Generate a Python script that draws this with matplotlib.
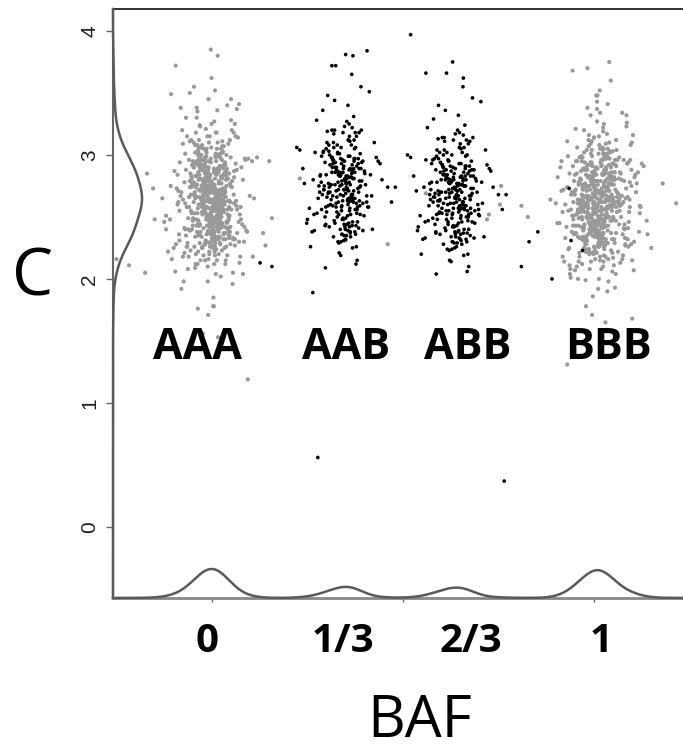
import numpy as np
import matplotlib
matplotlib.use('Agg')
from matplotlib import pyplot as plt

# BAF values are in thousandths, copy number (C) in hundredths

# AAA cluster (grey), around BAF 0
aaa_x = [-10, 15, -32, 4, -48, 22, -5, 38, -61, 9,
         -18, 27, -40, 1, 55, -25, -8, 31, -72, 12,
         -2, -36, 19, 44, -14, -55, 6, -21, 33, -1,
         -66, 17, -29, 49, -11, 3, -44, 25, -90, 8,
         -16, 40, -7, -52, 13, 29, -35, -3, 62, -24,
         11, -13, 36, -58, 0, 21, -42, 7, -19, 47,
         -27, -6, 16, -80, 34, -12, 24, -46, 2, -31,
         58, -9, 18, -38, 41, -22, -4, 10, -63, 28,
         -15, 52, -33, 5, -50, 20, -1, -26, 37, -70,
         14, -17, 30, -43, 66, -8, 23, -56, -12, 43,
         -110, 3, -30, 26, -20, 50, -39, 8, -4, 35,
         -60, 12, -23, 45, -9, -48, 17, 2, -35, 71,
         -14, 28, -76, 6, -28, 39, -3, 15, -53, 21,
         -41, 9, 54, -18, -6, 32, -65, 1, 24, -30,
         85, -11, -45, 13, -2, 42, -25, 19, -95, 7,
         -37, 31, -16, 57, -7, -51, 22, -20, 4, -130,
         27, -34, 11, 60, -13, -40, 14, -5, 36, -58,
         18, -27, 48, -10, -85, 3, 25, -22, 105, -44,
         0, 16, -31, 38, -15, -68, 10, 29, -3, -120,
         46, -19, 5, -36, 20, -150, 33, -9, 75, -47,
         -8, 5, -22, 14, -3, -30, 20, -12, 9, -18,
         2, -26, 16, -6, 27, -15, 0, -35, 11, -1,
         -20, 7, -10, 24, -28, 3, -14, 18, -4, -33,
         12, -9, 22, -17, 6, -24, 30, -2, -13, 15,
         -7, 19, -31, 1, -21, 10, -5, 26, -16, 4,
         -11, 17, -27, 8, -19, 23, -3, -36, 13, -8,
         21, -14, 0, -25, 28, -6, 9, -18, 2, -29,
         16, -10, 25, -1, -23, 6, -12, 32, -15, 11,
         -4, -32, 14, -20, 3, 18, -9, -26, 7, -16,
         24, -2, -11, 10, -24, 20, -7, 1, -34, 13,
         -3, 24, -41, 10, -17, 35, -29, 2, 18, -52,
         7, -22, 40, -9, -35, 15, 29, -14, -47, 4,
         21, -31, -6, 46, -19, 12, -38, 26, -2, -57,
         33, -12, 8, -44, 19, -25, 38, 0, -16, 27,
         -33, 6, -50, 14, -8, 31, -27, 43, -11, -39,
         22, -4, 16, -30, 36, -21, 3, -45, 25, -13,
         -1, 41, -36, 11, -24, 30, -7, -54, 17, 9,
         -28, 34, -15, 1, -42, 23, -5, 48, -32, 13,
         -20, 28, -49, 5, 37, -10, -26, 20, -3, -37,
         44, -18, 8, -34, 15, -43, 32, -6, 26, -23,
         -12, 39, -30, 3, 18, -46, 10, -16, 29, -40,
         6, -21, 35, -8, -53, 24, -2, 13, -27, 42,
         -35, 16, -9, 31, -19, 2, -44, 21, -14, 37,
         -25, 9, -38, 27, -4, -31, 45, -17, 11, -48,
         19, -7, 33, -22, 0, -36, 25, -11, 40, -29,
         -60, 35, -85, 52, -22, 70, -45, 18, -98, 41,
         -12, 63, -70, 27, -38, 88, -55, 6, 47, -80,
         30, -66, 58, -28, 76, -92, 14, -50, 39, -105,
         -34, 55, -76, 22, -58, 81, -17, 44, -88, 10,
         66, -42, 33, -64, 95, -26, 50, -72, 3, -115,
         -48, 24, 72, -36, -82, 46, -20, 60, -62, 29,
         -94, 37, -30, 79, -54, 12, -74, 53, -40, 90,
         19, -68, 42, -24, -100, 65, -46, 31, -86, 57,
         -15, 74, -52, 26, -78, 48, -33, 84, -60, 8,
         -120, 38, -44, 62, -25, 92, -70, 16, -56, 45,
         -35, 68, -90, 21, -48, 77, -18, 51, -82, 34,
         -65, 13, 86, -40, 58, -96, 27, -58, 73, -28,
         -108, 43, -15, 64, -72, 36, -50, 99, -32, 56,
         -84, 20, -62, 81, -43, 49, -76, 9, -54, 71,
         -125, 33, -38, 60, -88, 25, -68, 47, -22, 110]
aaa_y = [265, 240, 290, 255, 310, 228, 272, 300, 218, 260,
         285, 245, 330, 270, 205, 252, 295, 236, 278, 318,
         262, 222, 288, 248, 302, 268, 212, 280, 242, 325,
         258, 232, 296, 275, 198, 264, 308, 250, 284, 226,
         270, 340, 246, 292, 215, 260, 280, 238, 315, 254,
         286, 230, 266, 350, 244, 298, 220, 276, 257, 312,
         234, 282, 268, 192, 294, 249, 305, 226, 271, 260,
         287, 216, 263, 335, 241, 279, 253, 300, 208, 273,
         258, 320, 236, 289, 247, 268, 362, 225, 283, 261,
         244, 297, 232, 274, 256, 310, 202, 285, 266, 240,
         248, 270, 292, 223, 259, 328, 238, 281, 264, 212,
         296, 251, 277, 233, 345, 262, 286, 245, 272, 230,
         268, 303, 218, 258, 290, 241, 275, 380, 253, 229,
         283, 262, 196, 298, 247, 272, 315, 236, 259, 288,
         242, 210, 270, 305, 254, 281, 226, 266, 372, 248,
         292, 237, 263, 318, 220, 276, 252, 287, 185, 265,
         243, 299, 271, 232, 258, 338, 249, 284, 215, 274,
         261, 306, 228, 289, 255, 178, 268, 241, 295, 234,
         277, 258, 323, 246, 268, 288, 204, 262, 385, 240,
         251, 279, 236, 300, 265, 248, 225, 290, 258, 355,
         262, 245, 280, 255, 270, 238, 290, 251, 266, 228,
         275, 258, 300, 242, 268, 284, 233, 260, 295, 248,
         271, 222, 287, 256, 264, 240, 305, 252, 278, 236,
         259, 283, 246, 269, 230, 292, 254, 274, 243, 310,
         263, 250, 281, 237, 267, 298, 226, 261, 276, 249,
         286, 241, 265, 219, 279, 253, 294, 235, 270, 257,
         247, 282, 231, 263, 302, 244, 273, 255, 225, 288,
         260, 239, 277, 251, 296, 234, 268, 285, 248, 262,
         272, 229, 289, 256, 241, 279, 265, 308, 238, 253,
         283, 246, 270, 232, 261, 291, 250, 275, 243, 266,
         248, 282, 266, 301, 231, 270, 292, 255, 277, 240,
         287, 262, 219, 275, 306, 251, 268, 236, 290, 259,
         272, 244, 315, 263, 228, 284, 253, 296, 270, 239,
         260, 279, 247, 302, 266, 225, 288, 257, 273, 311,
         243, 269, 295, 234, 281, 254, 264, 309, 238, 276,
         298, 250, 271, 215, 285, 261, 242, 293, 267, 230,
         279, 256, 304, 246, 268, 289, 222, 274, 252, 299,
         265, 237, 283, 258, 318, 241, 276, 262, 294, 233,
         270, 302, 249, 286, 226, 263, 280, 244, 297, 257,
         235, 274, 260, 312, 252, 283, 268, 229, 291, 266,
         284, 245, 299, 261, 238, 277, 255, 321, 271, 248,
         259, 290, 232, 269, 281, 253, 306, 242, 275, 263,
         296, 240, 273, 256, 287, 227, 265, 301, 250, 280,
         262, 285, 244, 307, 236, 272, 258, 291, 224, 268,
         278, 251, 293, 264, 239, 286, 255, 270, 246, 300,
         258, 292, 231, 274, 305, 246, 268, 220, 287, 252,
         315, 263, 240, 281, 212, 296, 255, 327, 238, 270,
         284, 226, 261, 300, 248, 273, 336, 243, 289, 216,
         266, 232, 309, 257, 279, 204, 294, 250, 271, 318,
         237, 283, 262, 229, 297, 254, 345, 241, 276, 222,
         290, 259, 213, 302, 267, 235, 281, 325, 249, 264,
         228, 286, 271, 244, 312, 256, 198, 279, 295, 239,
         261, 330, 247, 273, 225, 288, 253, 307, 236, 268,
         299, 218, 277, 258, 320, 242, 284, 230, 266, 352,
         251, 275, 209, 293, 263, 238, 301, 269, 223, 285,
         247, 314, 260, 234, 278, 290, 215, 256, 338, 272,
         226, 265, 297, 243, 282, 206, 270, 311, 252, 289,
         275, 238, 303, 259, 221, 286, 248, 267, 324, 233,
         294, 255, 240, 280, 212, 298, 264, 229, 283, 341,
         246, 273, 308, 227, 262, 291, 235, 277, 219, 265]

# BBB cluster (grey), around BAF 1
bbb_x = [1010, 985, 1042, 968, 1025, 1003, 950, 1061, 992, 1018,
         1035, 974, 1008, 1088, 958, 1022, 996, 1047, 930, 1013,
         981, 1030, 1001, 1066, 962, 1016, 989, 1052, 942, 1024,
         1006, 977, 1039, 915, 1011, 1072, 994, 1028, 966, 1005,
         1045, 983, 1019, 1098, 955, 1033, 999, 971, 1058, 1014,
         987, 1026, 946, 1009, 1080, 976, 1037, 1002, 1120, 991,
         1020, 960, 1049, 997, 1031, 904, 1012, 1063, 979, 1023,
         1041, 969, 1007, 1085, 951, 1027, 993, 1055, 937, 1015,
         1000, 1034, 973, 1070, 1017, 886, 1044, 988, 1029, 964,
         1004, 1050, 980, 1110, 1021, 956, 1038, 995, 1064, 948,
         1013, 978, 1032, 1076, 961, 1026, 1001, 1046, 925, 1019,
         990, 1057, 970, 1036, 1008, 1094, 984, 1022, 940, 1011,
         1043, 967, 1025, 998, 1068, 953, 1015, 1040, 982, 1150,
         1006, 972, 1035, 1090, 959, 1018, 994, 1053, 933, 1024,
         1003, 1048, 975, 1030, 1014, 1180, 986, 1060, 944, 1009,
         1027, 963, 1039, 1000, 1074, 952, 1020, 1045, 979, 1215,
         1012, 968, 1033, 1082, 957, 1016, 997, 1051, 936, 1023,
         1005, 1042, 976, 1029, 1010, 1100, 989, 1058, 945, 1017,
         1036, 965, 1024, 1002, 1066, 950, 1013, 1047, 983, 1140,
         1008, 971, 1031, 1078, 960, 1021, 996, 1054, 918, 1015,
         1008, 1021, 994, 1030, 1003, 980, 1027, 998, 1015, 987,
         1010, 975, 1024, 1001, 1036, 991, 1012, 971, 1019, 1005,
         985, 1016, 996, 1033, 978, 1009, 992, 1026, 1000, 969,
         1018, 999, 1029, 989, 1013, 982, 1039, 1004, 995, 1022,
         1002, 1025, 977, 1011, 986, 1017, 1000, 1034, 990, 1014,
         997, 1023, 981, 1016, 988, 1031, 1006, 973, 1020, 1001,
         1028, 993, 1010, 984, 1037, 999, 1017, 989, 1007, 979,
         1024, 996, 1032, 1003, 983, 1014, 994, 1040, 991, 1019,
         1004, 974, 1022, 987, 1011, 1026, 998, 981, 1013, 992,
         1030, 1005, 996, 1018, 984, 1027, 1001, 1009, 972, 1021,
         1015, 988, 1042, 1001, 970, 1029, 1007, 1051, 980, 1022,
         994, 1036, 1011, 963, 1026, 999, 1045, 985, 1018, 956,
         1033, 1004, 975, 1040, 1013, 990, 1055, 968, 1024, 1002,
         981, 1031, 1009, 1048, 973, 1019, 996, 1038, 960, 1027,
         1006, 986, 1043, 1014, 977, 1035, 999, 1058, 983, 1021,
         1010, 965, 1030, 992, 1046, 1003, 979, 1039, 1016, 953,
         1025, 997, 1052, 987, 1012, 971, 1037, 1005, 1049, 982,
         1020, 959, 1034, 1000, 1044, 976, 1023, 993, 1060, 1008,
         969, 1028, 1013, 984, 1041, 998, 1017, 962, 1032, 1006,
         1053, 989, 1021, 974, 1036, 1002, 1047, 980, 1015, 966,
         1029, 995, 1043, 1011, 958, 1024, 1001, 1050, 986, 1019,
         1004, 972, 1038, 991, 1027, 1008, 964, 1045, 997, 1033,
         978, 1014, 1056, 988, 1022, 1000, 1041, 967, 1030, 1009,
         985, 1048, 1017, 961, 1035, 996, 1026, 975, 1012, 1054,
         1003, 983, 1039, 1020, 970, 1031, 994, 1044, 1007, 957,
         1060, 975, 1090, 942, 1035, 1078, 958, 1100, 987, 1047,
         930, 1068, 1004, 1112, 950, 1056, 980, 1085, 925, 1040,
         1072, 962, 1028, 1095, 945, 1063, 991, 1118, 936, 1052,
         968, 1082, 1016, 955, 1098, 978, 1044, 910, 1070, 1000,
         1088, 948, 1058, 985, 1125, 960, 1036, 1075, 920, 1050,
         995, 1092, 938, 1066, 972, 1105, 1026, 952, 1080, 965,
         1045, 905, 1073, 1010, 1096, 943, 1055, 983, 1130, 958,
         1038, 1086, 928, 1062, 999, 1108, 946, 1049, 976, 1093,
         915, 1069, 1020, 957, 1102, 989, 1043, 935, 1077, 1006,
         1091, 950, 1057, 972, 1120, 963, 1032, 1083, 918, 1065,
         992, 1099, 940, 1054, 980, 1115, 1024, 947, 1074, 968,
         1048, 900, 1087, 1013, 1094, 939, 1060, 986, 1138, 955,
         1040, 1081, 932, 1067, 1003, 1106, 952, 1051, 974, 1097,
         912, 1071, 1018, 960, 1104, 994, 1046, 933, 1079, 1008,
         1089, 944, 1059, 978, 1122, 966, 1030, 1084, 922, 1064]
bbb_y = [260, 236, 285, 250, 305, 222, 268, 296, 214, 255,
         281, 241, 327, 266, 200, 248, 291, 232, 274, 315,
         258, 218, 284, 244, 298, 264, 208, 276, 238, 322,
         254, 228, 292, 271, 192, 260, 304, 246, 280, 222,
         266, 338, 242, 288, 210, 256, 276, 234, 312, 250,
         282, 226, 262, 348, 240, 294, 216, 272, 253, 309,
         230, 278, 264, 186, 290, 245, 301, 222, 267, 256,
         283, 212, 259, 332, 237, 275, 249, 296, 204, 269,
         254, 317, 232, 285, 243, 264, 360, 221, 279, 257,
         240, 293, 228, 270, 252, 306, 198, 281, 262, 236,
         244, 266, 288, 219, 255, 325, 234, 277, 260, 208,
         292, 247, 273, 229, 343, 258, 282, 241, 268, 226,
         264, 299, 214, 254, 286, 237, 271, 375, 249, 225,
         279, 258, 190, 294, 243, 268, 311, 232, 255, 284,
         238, 206, 266, 301, 250, 277, 222, 262, 368, 244,
         288, 233, 259, 314, 216, 272, 248, 283, 178, 261,
         239, 295, 267, 228, 254, 334, 245, 280, 211, 270,
         257, 302, 224, 285, 251, 168, 264, 237, 291, 230,
         273, 254, 319, 242, 264, 284, 200, 258, 370, 236,
         247, 275, 232, 296, 261, 244, 221, 286, 254, 352,
         258, 241, 276, 251, 266, 234, 286, 247, 262, 224,
         271, 254, 296, 238, 264, 280, 229, 256, 291, 244,
         267, 218, 283, 252, 260, 236, 301, 248, 274, 232,
         255, 279, 242, 265, 226, 288, 250, 270, 239, 306,
         259, 246, 277, 233, 263, 294, 222, 257, 272, 245,
         282, 237, 261, 215, 275, 249, 290, 231, 266, 253,
         243, 278, 227, 259, 298, 240, 269, 251, 221, 284,
         256, 235, 273, 247, 292, 230, 264, 281, 244, 258,
         268, 225, 285, 252, 237, 275, 261, 304, 234, 249,
         279, 242, 266, 228, 257, 287, 246, 271, 239, 262,
         255, 240, 281, 262, 298, 227, 270, 249, 288, 236,
         266, 305, 246, 277, 219, 260, 286, 252, 232, 295,
         258, 273, 244, 310, 262, 238, 280, 256, 301, 225,
         271, 250, 289, 263, 242, 296, 257, 277, 214, 268,
         284, 246, 265, 308, 234, 274, 253, 291, 261, 229,
         276, 258, 300, 241, 268, 285, 222, 263, 249, 295,
         237, 281, 260, 316, 250, 272, 243, 289, 266, 231,
         292, 254, 274, 226, 283, 261, 304, 245, 270, 257,
         248, 287, 235, 264, 297, 252, 279, 218, 271, 259,
         282, 244, 267, 302, 239, 275, 255, 290, 230, 264,
         262, 299, 247, 271, 256, 233, 287, 250, 312, 268,
         243, 276, 259, 294, 224, 265, 281, 237, 269, 253,
         288, 248, 272, 220, 284, 257, 303, 242, 264, 279,
         251, 293, 236, 262, 274, 245, 298, 260, 228, 286,
         270, 254, 285, 241, 267, 309, 249, 276, 234, 261,
         254, 288, 226, 270, 301, 241, 264, 215, 283, 247,
         311, 259, 235, 277, 207, 292, 250, 323, 233, 266,
         280, 221, 256, 296, 243, 269, 332, 238, 285, 211,
         262, 227, 305, 252, 275, 199, 290, 245, 267, 314,
         232, 279, 258, 224, 293, 249, 341, 236, 272, 217,
         286, 254, 208, 298, 263, 230, 277, 321, 244, 260,
         223, 282, 267, 239, 308, 251, 193, 275, 291, 234,
         257, 326, 242, 269, 220, 284, 248, 303, 231, 264,
         295, 213, 273, 253, 316, 237, 280, 225, 262, 348,
         246, 271, 204, 289, 259, 233, 297, 265, 218, 281,
         242, 310, 256, 229, 274, 286, 210, 251, 334, 268,
         221, 261, 293, 238, 278, 201, 266, 307, 247, 285,
         271, 233, 299, 255, 216, 282, 243, 263, 320, 228,
         290, 250, 235, 276, 207, 294, 260, 224, 279, 337,
         241, 269, 304, 222, 258, 287, 230, 273, 214, 261]

# AAB cluster (black), around BAF 1/3
aab_x = [348, 320, 372, 301, 395, 338, 356, 280, 410, 329,
         362, 344, 305, 385, 267, 351, 333, 376, 312, 440,
         340, 359, 296, 367, 325, 390, 352, 318, 430, 336,
         365, 287, 347, 380, 309, 354, 242, 371, 331, 400,
         343, 316, 358, 292, 378, 337, 361, 255, 349, 420,
         326, 368, 303, 387, 341, 357, 275, 364, 314, 405,
         346, 332, 374, 298, 360, 322, 383, 350, 230, 369,
         339, 308, 362, 392, 327, 353, 284, 377, 345, 460,
         319, 366, 296, 381, 334, 356, 262, 373, 311, 398,
         350, 328, 370, 290, 384, 342, 359, 250, 366, 415,
         323, 355, 306, 389, 337, 362, 278, 375, 348, 445,
         316, 367, 300, 379, 330, 352, 270, 371, 343, 408,
         335, 360, 294, 386, 321, 364, 258, 374, 340, 425,
         346, 313, 369, 297, 382, 338, 358, 238, 363, 402,
         329, 354, 304, 391, 344, 366, 282, 376, 317, 470,
         351, 325, 372, 289, 385, 336, 357, 265, 368, 412,
         342, 318, 363, 299, 380, 331, 361, 248, 370, 435,
         347, 322, 374, 307, 388, 339, 355, 274, 365, 395,
         328, 359, 293, 383, 345, 352, 222, 378, 315, 480,
         334, 367, 302, 387, 340, 358, 268, 372, 324, 418,
         352, 318, 381, 336, 299, 364, 341, 390, 325, 357,
         310, 372, 346, 287, 368, 332, 399, 321, 355, 305,
         377, 339, 293, 360, 328, 386, 349, 314, 370, 334,
         296, 362, 343, 405, 322, 358, 307, 375, 337, 283,
         366, 330, 392, 316, 353, 301, 379, 345, 326, 368,
         291, 355, 338, 384, 312, 361, 347, 304, 374, 331,
         395, 319, 350, 286, 367, 340, 309, 378, 327, 359,
         298, 371, 344, 315, 388, 335, 363, 306, 356, 323]
aab_y = [281, 247, 312, 266, 295, 230, 340, 275, 258, 302,
         238, 289, 270, 318, 252, 283, 221, 306, 264, 293,
         276, 325, 243, 287, 261, 355, 272, 234, 298, 268,
         308, 256, 280, 215, 292, 244, 277, 331, 262, 285,
         249, 296, 271, 303, 226, 284, 311, 257, 279, 240,
         290, 263, 348, 274, 236, 299, 253, 282, 320, 267,
         272, 229, 286, 258, 315, 245, 293, 269, 304, 380,
         255, 300, 237, 279, 266, 327, 284, 212, 291, 274,
         317, 268, 294, 246, 283, 260, 238, 305, 276, 251,
         232, 287, 262, 336, 270, 296, 278, 248, 365, 284,
         294, 251, 308, 275, 219, 289, 265, 318, 242, 280,
         267, 322, 254, 291, 278, 235, 302, 271, 286, 258,
         286, 242, 275, 263, 344, 282, 226, 297, 259, 310,
         244, 298, 281, 209, 273, 306, 265, 289, 252, 276,
         301, 273, 259, 320, 248, 285, 270, 236, 293, 262,
         277, 258, 297, 268, 289, 240, 312, 280, 225, 351,
         263, 310, 234, 284, 256, 272, 299, 245, 281, 295,
         323, 276, 265, 242, 301, 258, 283, 328, 268, 239,
         250, 288, 272, 297, 231, 277, 306, 261, 290, 274,
         285, 243, 319, 259, 279, 262, 239, 295, 372, 267,
         274, 296, 258, 283, 305, 266, 248, 289, 271, 312,
         260, 281, 235, 299, 268, 252, 287, 320, 263, 277,
         243, 293, 272, 255, 308, 279, 240, 286, 265, 301,
         250, 276, 318, 262, 290, 245, 274, 256, 297, 283,
         268, 230, 294, 259, 281, 310, 253, 272, 288, 246,
         302, 264, 285, 241, 276, 257, 295, 269, 238, 284,
         261, 306, 249, 278, 292, 236, 270, 315, 254, 282,
         244, 289, 267, 298, 252, 275, 263, 303, 239, 286]

# ABB cluster (black), around BAF 2/3
abb_x = [635, 610, 660, 592, 680, 628, 645, 570, 700, 618,
         650, 632, 596, 675, 558, 641, 622, 668, 602, 730,
         628, 648, 586, 657, 613, 682, 640, 606, 720, 624,
         655, 578, 636, 672, 598, 644, 535, 662, 620, 692,
         632, 606, 648, 582, 670, 626, 652, 545, 638, 712,
         616, 660, 593, 678, 630, 647, 566, 655, 603, 696,
         636, 621, 665, 588, 650, 612, 674, 640, 520, 658,
         628, 598, 652, 684, 617, 643, 575, 668, 634, 750,
         609, 657, 586, 672, 623, 646, 552, 664, 601, 688,
         640, 618, 661, 580, 676, 631, 649, 540, 657, 706,
         613, 645, 596, 681, 626, 653, 568, 666, 637, 736,
         606, 658, 590, 670, 620, 642, 560, 662, 633, 698,
         624, 651, 584, 677, 611, 655, 548, 665, 630, 716,
         636, 603, 660, 587, 674, 628, 648, 528, 654, 694,
         619, 645, 594, 683, 634, 657, 572, 667, 607, 760,
         642, 615, 663, 579, 677, 626, 648, 555, 659, 704,
         632, 608, 654, 589, 671, 621, 652, 538, 661, 726,
         637, 612, 665, 597, 679, 629, 646, 564, 656, 686,
         618, 650, 583, 674, 635, 643, 512, 669, 605, 770,
         624, 658, 592, 678, 630, 649, 558, 663, 614, 708,
         640, 605, 672, 622, 588, 655, 630, 684, 612, 648,
         596, 664, 634, 575, 658, 618, 690, 608, 645, 592,
         668, 626, 580, 651, 615, 678, 638, 600, 662, 620,
         584, 654, 632, 698, 610, 646, 594, 666, 624, 570,
         657, 616, 686, 602, 643, 589, 670, 636, 613, 660,
         578, 648, 627, 676, 598, 652, 637, 591, 665, 619,
         688, 606, 641, 573, 659, 629, 597, 671, 614, 650,
         586, 663, 633, 603, 681, 622, 654, 593, 647, 611]
abb_y = [274, 241, 306, 259, 288, 224, 332, 268, 251, 296,
         232, 282, 263, 311, 246, 277, 215, 300, 257, 287,
         270, 318, 237, 281, 255, 346, 265, 228, 292, 261,
         302, 249, 273, 210, 286, 238, 271, 324, 255, 279,
         243, 290, 264, 297, 220, 278, 305, 251, 272, 234,
         284, 257, 340, 267, 230, 293, 247, 276, 314, 260,
         265, 223, 280, 252, 309, 239, 287, 262, 298, 362,
         249, 294, 231, 273, 260, 320, 278, 206, 285, 268,
         311, 262, 288, 240, 277, 254, 232, 299, 270, 245,
         226, 281, 256, 329, 264, 290, 272, 242, 355, 278,
         288, 245, 302, 269, 214, 283, 259, 312, 236, 274,
         261, 316, 248, 285, 272, 229, 296, 265, 280, 252,
         280, 236, 269, 257, 336, 276, 220, 291, 253, 304,
         238, 292, 275, 204, 267, 300, 259, 283, 246, 270,
         295, 267, 253, 314, 242, 279, 264, 230, 287, 256,
         271, 252, 291, 262, 283, 234, 306, 274, 219, 343,
         257, 304, 228, 278, 250, 266, 293, 239, 275, 289,
         317, 270, 259, 236, 295, 252, 277, 322, 262, 233,
         244, 282, 266, 291, 225, 271, 300, 255, 284, 268,
         279, 237, 313, 253, 273, 256, 233, 289, 366, 261,
         268, 290, 252, 277, 299, 260, 242, 283, 265, 306,
         254, 275, 229, 293, 262, 246, 281, 314, 257, 271,
         237, 287, 266, 249, 302, 273, 234, 280, 259, 295,
         244, 270, 312, 256, 284, 239, 268, 250, 291, 277,
         262, 224, 288, 253, 275, 304, 247, 266, 282, 240,
         296, 258, 279, 235, 270, 251, 289, 263, 232, 278,
         255, 300, 243, 272, 286, 230, 264, 309, 248, 276,
         238, 283, 261, 292, 246, 269, 257, 297, 233, 280]

# stray points outside the four clusters
grey_out_x = [-175, -217, -250, -170, -154, -107, 118, 107, 65, 150, 157, 134, 140,
              230, 560, 757, 725, 720, 754, 810, 827, 350, 460,
              -37, -10, 5, -24, 16, 94, 995, 1030, 930]
grey_out_y = [205, 211, 216, 285, 273, 349, 298, 218, 337, 295, 249, 237, 227,
              281, 269, 275, 252, 248, 260, 259, 250, 231, 228,
              176, 171, 178, 156, 153, 119, 171, 165, 131]
black_out_x = [264, 277, 520, 765, 935, 853, 830, 940, 970, 890, 810, 126, 157,
               406, 350, 314, 630, 560]
black_out_y = [189, 56, 397, 37, 273, 238, 230, 231, 223, 200, 210, 213, 210,
               384, 381, 372, 375, 366]

# rough number of SNPs in each cluster (AAA, AAB, ABB, BBB), used to weight the densities
cluster_n = [1500, 560, 540, 1500]

genotypes = ['AAA', 'AAB', 'ABB', 'BBB']
baf_labels = ['0', '1/3', '2/3', '1']


def to_arr(v, scale):
    return np.array(v, dtype=float) / scale


aaa = (to_arr(aaa_x, 1000), to_arr(aaa_y, 100))
aab = (to_arr(aab_x, 1000), to_arr(aab_y, 100))
abb = (to_arr(abb_x, 1000), to_arr(abb_y, 100))
bbb = (to_arr(bbb_x, 1000), to_arr(bbb_y, 100))
gout = (to_arr(grey_out_x, 1000), to_arr(grey_out_y, 100))
bout = (to_arr(black_out_x, 1000), to_arr(black_out_y, 100))

# weights for the marginal densities
groups = [aaa, aab, abb, bbb]
all_x = np.concatenate([g[0] for g in groups] + [gout[0], bout[0]])
all_y = np.concatenate([g[1] for g in groups] + [gout[1], bout[1]])
all_w = np.concatenate([np.full(len(g[0]), n / len(g[0])) for g, n in zip(groups, cluster_n)]
                       + [np.ones(len(gout[0])), np.ones(len(bout[0]))])


def kde(vals, w, grid, bw):
    d = (grid[:, None] - vals[None, :]) / bw
    return (np.exp(-0.5 * d * d) * w).sum(axis=1)


xmin, xmax = -0.259, 1.233
ymin, ymax = -0.573, 4.177

fig = plt.figure(figsize=(6.83, 7.52), dpi=100)
ax = fig.add_axes([113 / 683, 1 - 598 / 752, 1 - 113 / 683, (598 - 9) / 752])

grey = '#999999'
ax.scatter(np.concatenate([aaa[0], bbb[0], gout[0]]), np.concatenate([aaa[1], bbb[1], gout[1]]),
           s=9, color=grey, edgecolors='none', zorder=2)
ax.scatter(np.concatenate([aab[0], abb[0], bout[0]]), np.concatenate([aab[1], abb[1], bout[1]]),
           s=7, color='black', edgecolors='none', zorder=3)

# marginal densities drawn along the bottom and the left side
gx = np.linspace(xmin, xmax, 800)
dx = kde(all_x, all_w, gx, 0.028)
ax.plot(gx, ymin + dx / dx.max() * 0.234, color='#5a5a5a', lw=1.8, zorder=4, clip_on=False)

gy = np.linspace(ymin, ymax, 800)
dy = kde(all_y, all_w, gy, 0.09)
ax.plot(xmin + dy / dy.max() * 0.076, gy, color='#5a5a5a', lw=1.8, zorder=4, clip_on=False)

ax.set_xlim(xmin, xmax)
ax.set_ylim(ymin, ymax)

ax.spines['right'].set_visible(False)
ax.spines['top'].set_color('#222222')
ax.spines['top'].set_linewidth(1.3)
ax.spines['left'].set_color('#666666')
ax.spines['left'].set_linewidth(1.5)
ax.spines['bottom'].set_color('#888888')
ax.spines['bottom'].set_linewidth(2)

ax.set_yticks([0, 1, 2, 3, 4])
ax.tick_params(axis='y', length=5, width=1, color='#666666', pad=5, labelsize=15,
               labelrotation=90, labelcolor='#222222')
for t in ax.get_yticklabels():
    t.set_fontfamily('Liberation Sans')
    t.set_va('center')

ax.set_xticks([0, 0.5, 1])
ax.set_xticklabels([])
ax.tick_params(axis='x', length=3, width=1, color='#666666')

# big BAF labels under the axis
for xv, lab in zip([-0.013, 0.343, 0.678, 1.018], baf_labels):
    ax.text(xv, -0.927, lab, ha='center', va='center', fontsize=29, fontweight='bold',
            family='Open Sans', clip_on=False)

# genotype labels
for xv, lab in zip([-0.038, 0.351, 0.670, 1.039], genotypes):
    ax.text(xv, 1.444, lab, ha='center', va='center', fontsize=31, fontweight='bold',
            family='Open Sans', zorder=5)

fig.text(420 / 683, 1 - 722 / 752, 'BAF', ha='center', va='center', fontsize=42, family='Open Sans')
fig.text(33 / 683, 1 - 278 / 752, 'C', ha='center', va='center', fontsize=47, family='Open Sans')

fig.savefig('out.png', dpi=100)
